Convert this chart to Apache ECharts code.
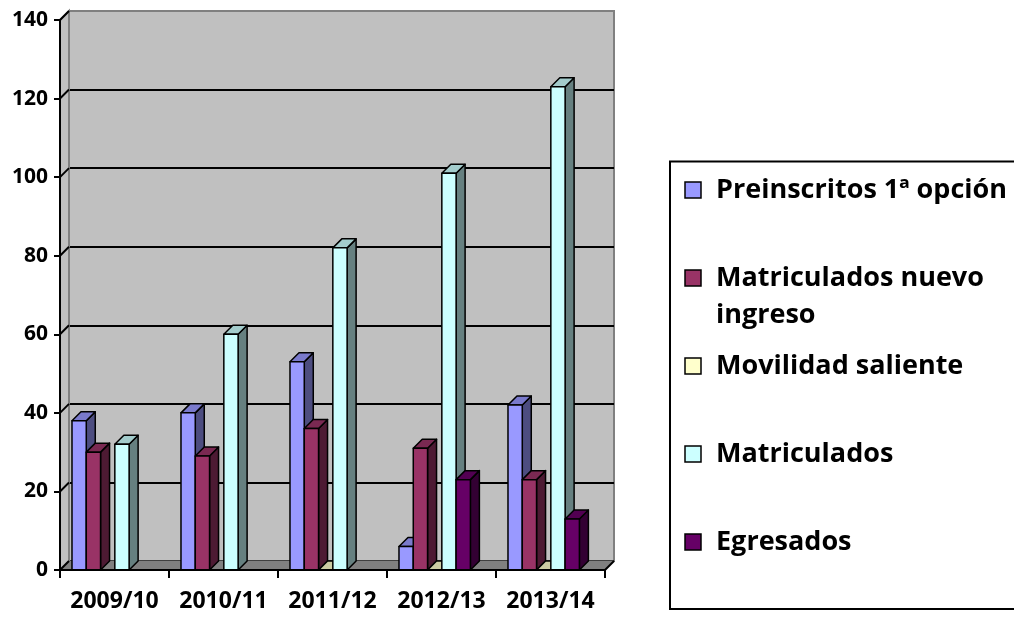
<!DOCTYPE html>
<html>
<head>
<meta charset="utf-8">
<script src="https://cdn.jsdelivr.net/npm/echarts@6/dist/echarts.min.js"></script>
<style>
html, body { margin: 0; padding: 0; background: #fff; }
#chart { width: 1014px; height: 617px; }
</style>
</head>
<body>
<div id="chart"></div>
<script>
// datos
var years = ['2009/10', '2010/11', '2011/12', '2012/13', '2013/14'];
var seriesNames = ['Preinscritos 1ª opción', 'Matriculados nuevo ingreso', 'Movilidad saliente', 'Matriculados', 'Egresados'];
var legendLines = [['Preinscritos 1ª opción'], ['Matriculados nuevo', 'ingreso'], ['Movilidad saliente'], ['Matriculados'], ['Egresados']];
var preinscritos = [38, 40, 53, 6, 42];
var matNuevo = [30, 29, 36, 31, 23];
var movilidad = [null, null, 0, 0, 0];
var matriculados = [32, 60, 82, 101, 123];
var egresados = [null, null, null, 23, 13];
var yTicks = [0, 20, 40, 60, 80, 100, 120, 140];
var seriesColors = ['#9999FF', '#993366', '#FFFFCC', '#CCFFFF', '#660066'];

var allValues = [preinscritos, matNuevo, movilidad, matriculados, egresados];

var D = 9;              // profundidad 3D
var groupStart = 0.11;  // inicio del grupo dentro de la categoria
var barFrac = 0.131;    // ancho de cada barra
var FONT = '"Open Sans", sans-serif';

function shade(hex, f) {
    var n = parseInt(hex.slice(1), 16);
    var r = Math.round(((n >> 16) & 255) * f);
    var g = Math.round(((n >> 8) & 255) * f);
    var b = Math.round((n & 255) * f);
    return 'rgb(' + r + ',' + g + ',' + b + ')';
}

function barRenderer(k) {
    return function(params, api) {
        var v = api.value(1);
        if (v === null || v === undefined || isNaN(v)) return;
        var cat = api.value(0);
        var bw = api.size([1, 0])[0];
        var base = api.coord([cat, 0]);
        var top = api.coord([cat, v]);
        var w = bw * barFrac;
        var x = base[0] - bw / 2 + bw * groupStart + k * w;
        var y0 = base[1], y1 = top[1];
        var c = seriesColors[k];
        var st = { stroke: '#000', lineWidth: 1.5, lineJoin: 'round' };
        return {
            type: 'group',
            children: [
                {
                    type: 'polygon',
                    shape: { points: [[x + w, y1], [x + w + D, y1 - D], [x + w + D, y0 - D], [x + w, y0]] },
                    style: Object.assign({ fill: shade(c, 0.5) }, st)
                },
                {
                    type: 'polygon',
                    shape: { points: [[x, y1], [x + D, y1 - D], [x + w + D, y1 - D], [x + w, y1]] },
                    style: Object.assign({ fill: shade(c, 0.8) }, st)
                },
                {
                    type: 'rect',
                    shape: { x: x, y: y1, width: w, height: y0 - y1 },
                    style: Object.assign({ fill: c }, st)
                }
            ]
        };
    };
}

// paredes laterales y suelo
function wallRenderer(params, api) {
    var cs = params.coordSys;
    var l = cs.x, t = cs.y, r = cs.x + cs.width, b = cs.y + cs.height;
    return {
        type: 'group',
        children: [
            {
                type: 'polygon',
                shape: { points: [[l, t], [l + D, t - D], [l + D, b - D], [l, b]] },
                style: { fill: '#C0C0C0', stroke: '#808080', lineWidth: 2 }
            },
            {
                type: 'polygon',
                shape: { points: [[l, b], [l + D, b - D], [r + D, b - D], [r, b]] },
                style: { fill: '#808080', stroke: '#808080', lineWidth: 1 }
            },
            {
                type: 'line',
                shape: { x1: r, y1: b, x2: r + D, y2: b - D },
                style: { stroke: '#000', lineWidth: 2 }
            }
        ]
    };
}

function tickDiagRenderer(params, api) {
    var cs = params.coordSys;
    var p = api.coord([0, api.value(1)]);
    return {
        type: 'line',
        shape: { x1: cs.x, y1: p[1], x2: cs.x + D, y2: p[1] - D },
        style: { stroke: '#000', lineWidth: 2 }
    };
}

var series = [
    {
        type: 'custom',
        xAxisIndex: 1, yAxisIndex: 1,
        z: 1,
        silent: true,
        renderItem: wallRenderer,
        data: [[0, 0]]
    },
    {
        type: 'custom',
        xAxisIndex: 1, yAxisIndex: 1,
        z: 1,
        silent: true,
        renderItem: tickDiagRenderer,
        data: yTicks.map(function(v) { return [0, v]; })
    }
];

for (var k = 0; k < seriesNames.length; k++) {
    series.push({
        name: seriesNames[k],
        type: 'custom',
        xAxisIndex: 1, yAxisIndex: 1,
        z: 2,
        renderItem: barRenderer(k),
        encode: { x: 0, y: 1 },
        data: allValues[k].map(function(v, i) { return [i, v]; })
    });
}

// leyenda
var legendGraphics = [{
    type: 'rect',
    shape: { x: 670, y: 161.5, width: 400, height: 447.5 },
    style: { fill: '#fff', stroke: '#000', lineWidth: 2 }
}];
for (var j = 0; j < legendLines.length; j++) {
    var cy = 190 + j * 88;
    legendGraphics.push({
        type: 'rect',
        shape: { x: 685, y: cy - 8, width: 16, height: 16 },
        style: { fill: seriesColors[j], stroke: '#000', lineWidth: 1.5 }
    });
    for (var m = 0; m < legendLines[j].length; m++) {
        legendGraphics.push({
            type: 'text',
            x: 716,
            y: cy + m * 37,
            style: {
                text: legendLines[j][m],
                font: 'bold 27px ' + FONT,
                fill: '#000',
                verticalAlign: 'middle',
                align: 'left'
            }
        });
    }
}

var chart = echarts.init(document.getElementById('chart'));

var option = {
    animation: false,
    backgroundColor: '#fff',
    grid: [
        {
            left: 69, top: 11, width: 545, height: 550,
            show: true,
            backgroundColor: '#C0C0C0',
            borderColor: '#808080',
            borderWidth: 2
        },
        {
            left: 60, top: 20, width: 545, height: 550
        }
    ],
    xAxis: [
        {
            gridIndex: 0,
            type: 'category',
            data: years,
            show: false
        },
        {
            gridIndex: 1,
            type: 'category',
            data: years,
            z: 3,
            axisLine: { lineStyle: { color: '#000', width: 2 } },
            axisTick: { show: true, length: 8, interval: 0, lineStyle: { color: '#000', width: 2 } },
            axisLabel: {
                color: '#000',
                fontFamily: FONT,
                fontWeight: 'bold',
                fontSize: 23,
                margin: 20,
                interval: 0
            }
        }
    ],
    yAxis: [
        {
            gridIndex: 0,
            type: 'value',
            min: 0, max: 140, interval: 20,
            axisLine: { show: false },
            axisTick: { show: false },
            axisLabel: { show: false },
            splitLine: { show: true, showMaxLine: false, lineStyle: { color: '#000', width: 2 } }
        },
        {
            gridIndex: 1,
            type: 'value',
            min: 0, max: 140, interval: 20,
            z: 3,
            axisLine: { show: true, lineStyle: { color: '#000', width: 2 } },
            axisTick: { show: true, length: 6, lineStyle: { color: '#000', width: 2 } },
            axisLabel: {
                color: '#000',
                fontFamily: FONT,
                fontWeight: 'bold',
                fontSize: 21,
                margin: 12
            },
            splitLine: { show: false }
        }
    ],
    graphic: legendGraphics,
    series: series
};

chart.setOption(option);
</script>
</body>
</html>
